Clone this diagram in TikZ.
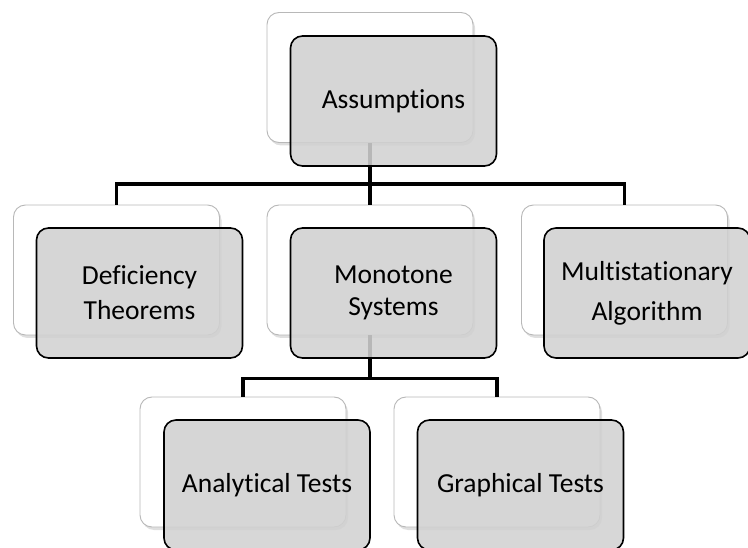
\documentclass[tikz,border=0pt]{standalone}
\usepackage{fontspec}
\setmainfont[Ligatures=NoCommon]{Carlito}
\usetikzlibrary{shadows}
\begin{document}
\begin{tikzpicture}[x=1pt,y=-1pt,
  backbox/.style={draw=black!28, line width=0.9pt, fill=white, rounded corners=12pt,
    minimum width=206pt, minimum height=130pt, inner sep=0pt,
    drop shadow={shadow xshift=2pt, shadow yshift=-3pt, opacity=0.25, fill=black!50}},
  frontbox/.style={draw=black, line width=1.6pt, fill=black!18, fill opacity=0.88, text opacity=1,
    rounded corners=12pt, minimum width=206pt, minimum height=130pt, inner sep=0pt,
    align=center, font=\fontsize{27.5}{35}\selectfont},
  conn/.style={line width=3.5pt, black}]
\useasboundingbox (0,0) rectangle (748,548);
% back boxes
\node[backbox] (aB) at (370,77.5) {};
\node[backbox] (dB) at (116.5,270) {};
\node[backbox] (mB) at (370,270) {};
\node[backbox] (sB) at (624.5,270) {};
\node[backbox] (anB) at (243,462) {};
\node[backbox] (grB) at (497,462) {};
% connectors
\coordinate (j1) at (370,184);
\coordinate (j2) at (370,378.5);
\draw[conn] (aB.south) -- (mB.north);
\draw[conn] (dB.north) |- (j1) -| (sB.north);
\draw[conn] (mB.south) -- (j2);
\draw[conn] (anB.north) |- (j2) -| (grB.north);
% front boxes
\node[frontbox] (aF) at (393.5,101) {Assumptions};
\node[frontbox] (dF) at (139.5,293) {Deficiency\\Theorems};
\node[frontbox, font=\fontsize{27.5}{32}\selectfont] (mF) at (393.5,293) {Monotone\\Systems};
\node[frontbox, font=\fontsize{27.5}{40}\selectfont] (sF) at (647,293) {Multistationary\\Algorithm};
\node[frontbox] (anF) at (267,485) {Analytical Tests};
\node[frontbox] (grF) at (520.5,485) {Graphical Tests};
\end{tikzpicture}
\end{document}
